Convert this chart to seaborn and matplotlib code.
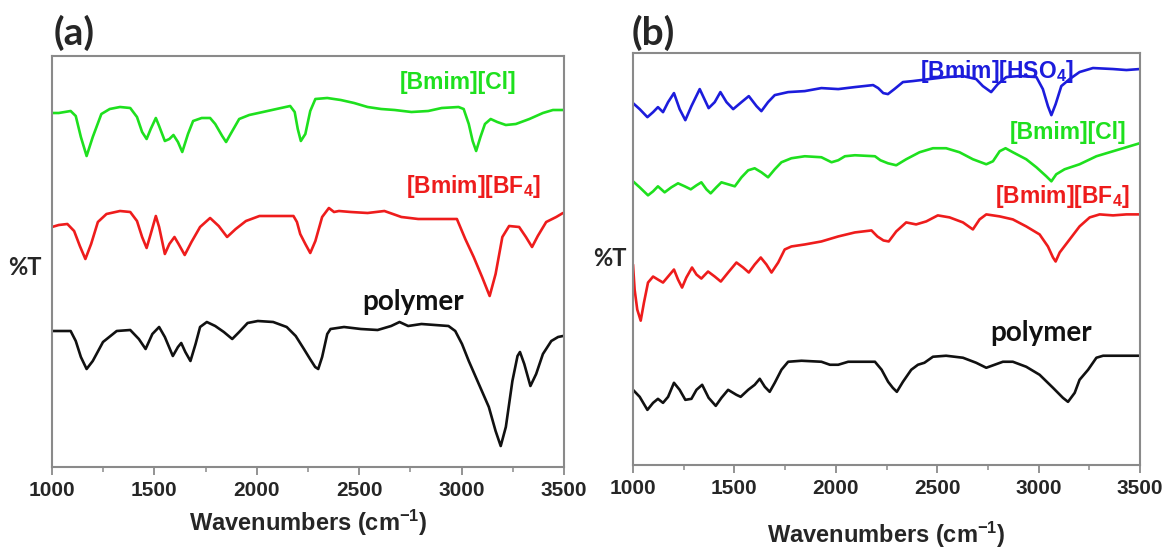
import numpy as np
import pandas as pd
import matplotlib
matplotlib.use('Agg')
import matplotlib.pyplot as plt
import seaborn as sns
from matplotlib.ticker import MultipleLocator

# ---- panel (a): wavenumber (cm-1) and transmittance (arbitrary, offset) ----
wn_a_cl = [1000, 1033, 1091, 1116, 1141, 1169, 1199, 1241, 1282, 1332, 1382, 1415, 1440, 1462,
           1482, 1507, 1523, 1551, 1573, 1593, 1615, 1636, 1664, 1689, 1731, 1772, 1797, 1831,
           1850, 1872, 1914, 1963, 2030, 2096, 2163, 2185, 2200, 2215, 2237, 2261, 2286, 2344,
           2410, 2475, 2541, 2607, 2673, 2755, 2837, 2903, 2985, 3010, 3035, 3054, 3071, 3092,
           3114, 3142, 3174, 3216, 3265, 3331, 3397, 3446, 3495]
t_a_cl = [354, 354, 356, 351, 330, 311, 330, 353, 358, 360, 359, 350, 335, 328,
          338, 349, 341, 326, 328, 332, 325, 315, 333, 346, 349, 349, 343, 331,
          325, 333, 348, 352, 355, 358, 361, 355, 338, 326, 333, 356, 368, 369,
          367, 364, 360, 358, 357, 355, 356, 359, 360, 358, 343, 326, 316, 330,
          343, 348, 345, 342, 343, 348, 354, 357, 357]

wn_a_bf4 = [1000, 1033, 1075, 1108, 1136, 1163, 1191, 1224, 1266, 1332, 1382, 1415, 1440, 1462,
            1482, 1507, 1523, 1551, 1573, 1598, 1618, 1648, 1681, 1723, 1772, 1814, 1855, 1897,
            1947, 2013, 2096, 2179, 2196, 2212, 2237, 2261, 2286, 2319, 2352, 2377, 2401, 2459,
            2541, 2623, 2706, 2788, 2870, 2977, 3018, 3059, 3100, 3137, 3166, 3199, 3232, 3281,
            3314, 3344, 3372, 3413, 3462, 3495]
t_a_bf4 = [240, 242, 243, 236, 221, 208, 223, 245, 253, 256, 255, 246, 230, 219,
           233, 251, 240, 213, 223, 230, 223, 212, 225, 240, 249, 241, 230, 238,
           246, 251, 251, 251, 245, 233, 223, 214, 226, 250, 259, 255, 256, 255,
           254, 256, 250, 248, 248, 248, 228, 210, 190, 171, 193, 230, 241, 240,
           230, 220, 231, 245, 250, 254]

wn_a_poly = [1000, 1091, 1116, 1141, 1169, 1199, 1249, 1316, 1382, 1424, 1457, 1490, 1523, 1551,
             1590, 1615, 1631, 1651, 1676, 1701, 1723, 1756, 1797, 1839, 1880, 1914, 1955, 2005,
             2080, 2146, 2190, 2230, 2260, 2285, 2300, 2319, 2344, 2360, 2426, 2508, 2590, 2656,
             2697, 2739, 2804, 2870, 2936, 2969, 3002, 3035, 3084, 3133, 3166, 3191, 3216, 3248,
             3273, 3285, 3306, 3336, 3364, 3397, 3438, 3471, 3495]
t_a_poly = [136, 136, 126, 110, 98, 106, 125, 136, 137, 128, 118, 133, 140, 130,
            111, 120, 124, 115, 106, 123, 140, 145, 141, 135, 128, 135, 144, 146,
            145, 140, 131, 118, 108, 100, 98, 110, 133, 138, 140, 138, 137, 141,
            145, 141, 143, 142, 141, 136, 123, 106, 83, 60, 36, 21, 40, 86,
            111, 115, 103, 81, 93, 113, 126, 130, 131]

# ---- panel (b) ----
wn_b_hso4 = [1000, 1033, 1071, 1099, 1123, 1148, 1173, 1202, 1230, 1258, 1288, 1329, 1373, 1403,
             1431, 1461, 1494, 1535, 1571, 1609, 1633, 1666, 1699, 1765, 1847, 1929, 2012, 2094,
             2184, 2209, 2234, 2257, 2289, 2331, 2380, 2462, 2544, 2627, 2692, 2725, 2766, 2799,
             2841, 2906, 2989, 3021, 3046, 3063, 3084, 3112, 3153, 3202, 3268, 3367, 3433, 3499]
t_b_hso4 = [361, 355, 347, 352, 357, 352, 362, 371, 355, 344, 358, 375, 356, 362,
            372, 362, 355, 362, 368, 358, 353, 362, 369, 372, 373, 376, 375, 377,
            379, 376, 371, 370, 375, 382, 383, 385, 387, 388, 385, 378, 372, 380,
            387, 388, 387, 375, 358, 349, 360, 378, 385, 392, 396, 395, 394, 395]

wn_b_cl = [1000, 1033, 1074, 1099, 1123, 1156, 1189, 1222, 1255, 1285, 1313, 1337, 1362, 1383,
           1411, 1436, 1469, 1502, 1535, 1568, 1600, 1633, 1666, 1699, 1732, 1781, 1847, 1929,
           1979, 2012, 2045, 2094, 2193, 2220, 2257, 2298, 2347, 2413, 2479, 2544, 2610, 2676,
           2742, 2775, 2808, 2837, 2873, 2939, 2989, 3038, 3063, 3087, 3128, 3202, 3285, 3367,
           3433, 3499]
t_b_cl = [283, 277, 269, 273, 278, 272, 277, 281, 278, 275, 279, 282, 275, 271,
          277, 282, 280, 278, 287, 294, 296, 292, 287, 295, 302, 306, 308, 307,
          302, 304, 308, 309, 308, 304, 301, 299, 305, 312, 316, 316, 312, 305,
          300, 303, 313, 316, 312, 305, 297, 288, 283, 290, 295, 300, 308, 313,
          317, 321]

wn_b_bf4 = [1000, 1008, 1021, 1038, 1054, 1074, 1099, 1123, 1148, 1173, 1202, 1222, 1242, 1263,
            1291, 1313, 1337, 1370, 1403, 1433, 1469, 1510, 1543, 1571, 1600, 1630, 1658, 1683,
            1716, 1748, 1781, 1847, 1929, 2012, 2094, 2176, 2205, 2235, 2261, 2298, 2347, 2396,
            2446, 2503, 2561, 2627, 2676, 2709, 2742, 2808, 2873, 2939, 3005, 3046, 3071, 3084,
            3104, 3153, 3202, 3252, 3301, 3367, 3433, 3499]
t_b_bf4 = [200, 175, 155, 144, 162, 182, 188, 185, 182, 188, 195, 185, 177, 187,
           197, 190, 186, 193, 188, 183, 192, 202, 197, 192, 200, 207, 200, 192,
           202, 215, 218, 220, 223, 228, 232, 234, 228, 224, 223, 233, 242, 240,
           243, 249, 247, 242, 235, 245, 250, 248, 245, 238, 230, 218, 207, 203,
           212, 225, 238, 247, 250, 249, 250, 250]

wn_b_poly = [1000, 1033, 1071, 1099, 1123, 1148, 1173, 1202, 1230, 1258, 1288, 1313, 1341, 1373,
             1408, 1436, 1469, 1510, 1531, 1568, 1600, 1625, 1650, 1674, 1699, 1732, 1765, 1831,
             1929, 1971, 2012, 2061, 2127, 2193, 2226, 2258, 2281, 2301, 2331, 2372, 2405, 2437,
             2479, 2544, 2627, 2692, 2742, 2783, 2824, 2873, 2939, 3005, 3071, 3120, 3145, 3178,
             3202, 3244, 3285, 3318, 3367, 3499]
t_b_poly = [75, 68, 55, 62, 66, 62, 68, 82, 75, 65, 66, 75, 80, 67,
            59, 67, 75, 70, 68, 75, 80, 86, 78, 73, 82, 95, 103, 104,
            103, 100, 100, 103, 103, 103, 95, 83, 77, 73, 83, 95, 100, 102,
            108, 109, 107, 102, 97, 100, 103, 103, 98, 90, 77, 67, 63, 72,
            85, 95, 107, 109, 109, 109]

GREEN, RED, BLUE, BLACK = '#1ee01e', '#ee1c1c', '#1c1cdc', '#111111'
FRAME = '#8a8a8a'

sns.set_style('white')
plt.rcParams['font.family'] = ['Liberation Sans', 'DejaVu Sans']
plt.rcParams['mathtext.fontset'] = 'custom'
plt.rcParams['mathtext.rm'] = 'Liberation Sans'
plt.rcParams['mathtext.bf'] = 'Liberation Sans:bold'
plt.rcParams['mathtext.default'] = 'bf'

fig = plt.figure(figsize=(11.68, 5.52), dpi=100)
ax_a = fig.add_axes([52/1168, 85/552, 512/1168, 411/552])
ax_b = fig.add_axes([633/1168, 87/552, 507/1168, 412/552])

panels = {
    ax_a: [(wn_a_cl, t_a_cl, GREEN), (wn_a_bf4, t_a_bf4, RED), (wn_a_poly, t_a_poly, BLACK)],
    ax_b: [(wn_b_hso4, t_b_hso4, BLUE), (wn_b_cl, t_b_cl, GREEN),
           (wn_b_bf4, t_b_bf4, RED), (wn_b_poly, t_b_poly, BLACK)],
}

for ax, series in panels.items():
    for wn, t, col in series:
        df = pd.DataFrame({'wn': wn, 't': t})
        sns.lineplot(data=df, x='wn', y='t', ax=ax, color=col, lw=1.9, sort=False)
    ax.set_xlim(1000, 3500)
    ax.set_ylim(0, 411)
    ax.set_yticks([])
    ax.set_ylabel('')
    ax.xaxis.set_major_locator(MultipleLocator(500))
    ax.xaxis.set_minor_locator(MultipleLocator(250))
    ax.tick_params(axis='x', which='major', direction='out', length=6, width=1.3,
                   color=FRAME, bottom=True, pad=4, labelsize=15)
    ax.tick_params(axis='x', which='minor', direction='out', length=3.5, width=1.1,
                   color=FRAME, bottom=True)
    for lab in ax.get_xticklabels():
        lab.set_fontweight('bold')
    for sp in ax.spines.values():
        sp.set_color(FRAME)
        sp.set_linewidth(1.5)
        sp.set_visible(True)

ax_a.set_xlabel('Wavenumbers (cm$^{-1}$)', fontsize=17, fontweight='bold', labelpad=6)
ax_b.set_xlabel('Wavenumbers (cm$^{-1}$)', fontsize=17, fontweight='bold', labelpad=16)

lbl = dict(ha='center', va='center', fontsize=16.5, fontweight='bold')
ax_a.text(2982, 384, '[Bmim][Cl]', color=GREEN, **lbl)
ax_a.text(3056, 280, '[Bmim][BF$_4$]', color=RED, **lbl)
ax_b.text(2794, 393, '[Bmim][HSO$_4$]', color=BLUE, **lbl)
ax_b.text(3145, 332, '[Bmim][Cl]', color=GREEN, **lbl)
ax_b.text(3116, 268, '[Bmim][BF$_4$]', color=RED, **lbl)

poly = dict(ha='center', va='center', fontsize=20, fontweight='bold',
            family=['Lato', 'DejaVu Sans'], color=BLACK)
ax_a.text(2764, 165, 'polymer', **poly)
ax_b.text(3012, 132, 'polymer', **poly)

side = dict(fontsize=17, fontweight='bold', family=['Lato', 'DejaVu Sans'],
            va='center', ha='center')
fig.text(25/1168, 1 - 268/552, '%T', **side)
fig.text(610/1168, 1 - 258/552, '%T', **side)

tag = dict(fontsize=28, fontweight='bold', family=['Lato', 'DejaVu Sans'],
           va='center', ha='left')
fig.text(54/1168, 1 - 33/552, '(a)', **tag)
fig.text(632/1168, 1 - 33/552, '(b)', **tag)

fig.savefig('out.png', dpi=100)
